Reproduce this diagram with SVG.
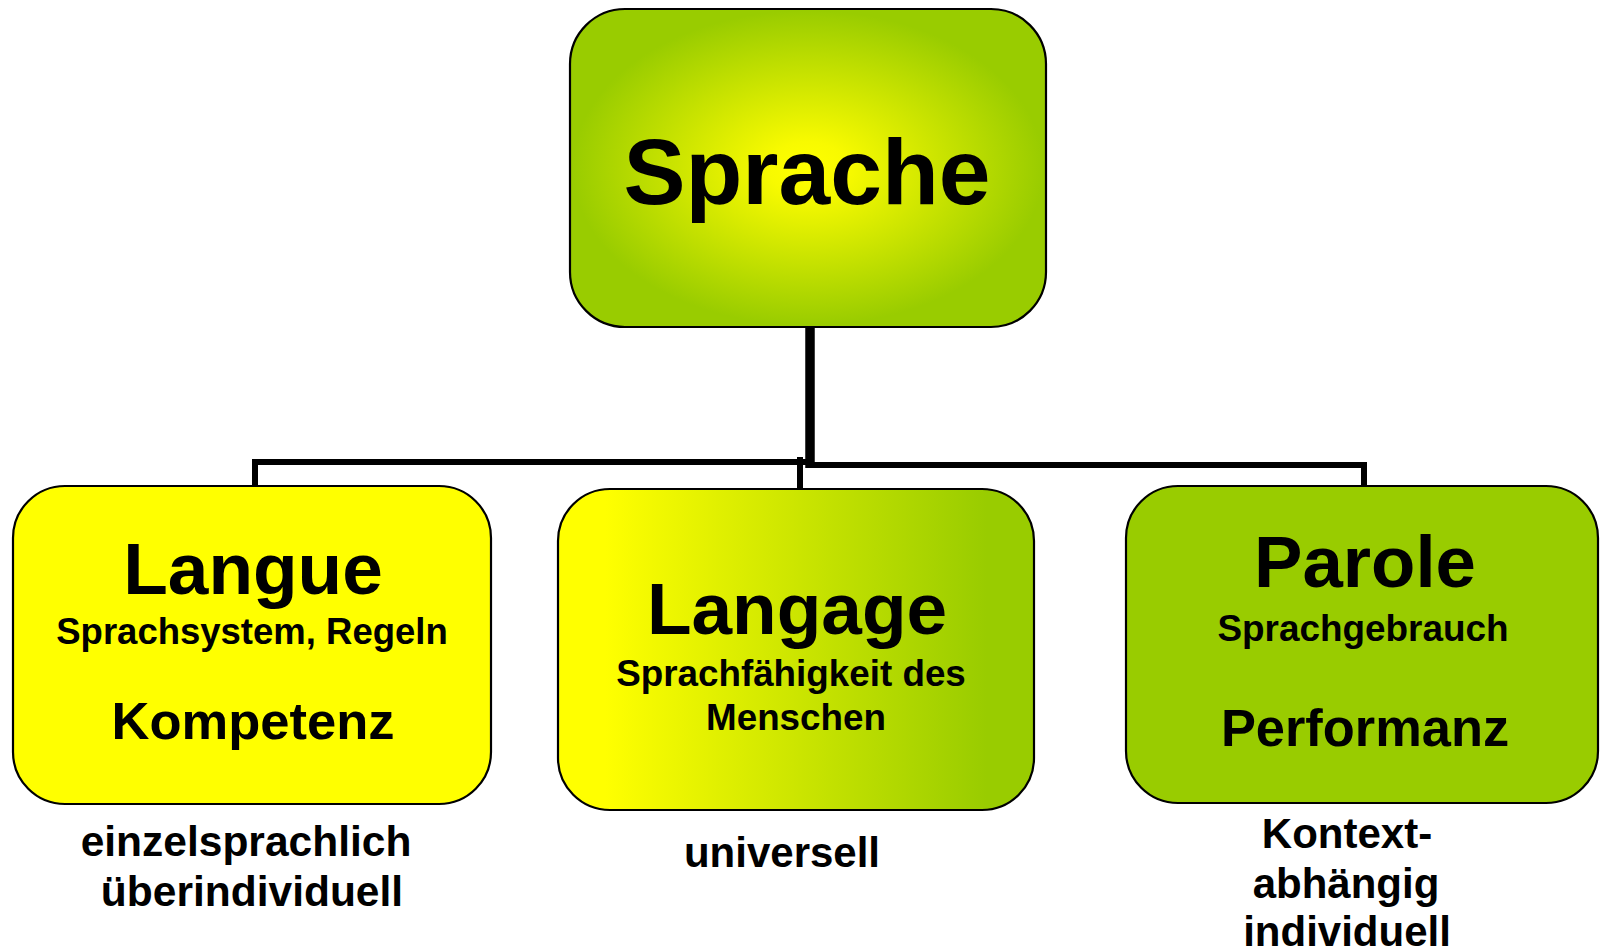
<svg xmlns="http://www.w3.org/2000/svg" width="1600" height="951" viewBox="0 0 1600 951">
<defs>
<radialGradient id="gRad" cx="0.5" cy="0.5" r="0.55">
<stop offset="0" stop-color="#ffff00"/>
<stop offset="0.15" stop-color="#f8fa00"/>
<stop offset="0.9" stop-color="#99cc00"/>
</radialGradient>
<linearGradient id="gLin" x1="0" y1="0" x2="1" y2="0">
<stop offset="0.1" stop-color="#ffff00"/>
<stop offset="0.9" stop-color="#99cc00"/>
</linearGradient>
</defs>
<style>
.box{stroke:#000;stroke-width:2.2}
.t{font-family:"Liberation Sans",Arial,sans-serif;font-weight:bold;fill:#000;text-anchor:middle}
.con{fill:none;stroke:#000;stroke-linejoin:miter;stroke-linecap:butt}
</style>
<rect width="1600" height="951" fill="#fff"/>
<g id="connectors">
<path class="con" stroke-width="9.5" d="M810,327 V468"/>
<path class="con" stroke-width="6" d="M255,486 V462 H810"/>
<path class="con" stroke-width="6" d="M806,465 H1364 V486"/>
<path class="con" stroke-width="6" d="M800,457 V489"/>
</g>
<g id="sprache">
<rect class="box" x="570" y="9" width="476" height="318" rx="55" fill="url(#gRad)"/>
<text class="t" x="807" y="204" font-size="93">Sprache</text>
</g>
<g id="langue">
<rect class="box" x="13" y="486" width="478" height="318" rx="52" fill="#ffff00"/>
<text class="t" x="253" y="594" font-size="73">Langue</text>
<text class="t" x="252" y="644" font-size="36.5">Sprachsystem, Regeln</text>
<text class="t" x="253" y="739" font-size="52.5">Kompetenz</text>
</g>
<g id="langage">
<rect class="box" x="558" y="489" width="476" height="321" rx="52" fill="url(#gLin)"/>
<text class="t" x="797" y="634" font-size="73">Langage</text>
<text class="t" x="791" y="686" font-size="36.8">Sprachfähigkeit des</text>
<text class="t" x="796" y="730" font-size="36.8">Menschen</text>
</g>
<g id="parole">
<rect class="box" x="1126" y="486" width="472" height="317" rx="52" fill="#99cc00"/>
<text class="t" x="1365" y="587" font-size="72.6">Parole</text>
<text class="t" x="1363" y="641" font-size="36.9">Sprachgebrauch</text>
<text class="t" x="1365" y="746" font-size="52.4">Performanz</text>
</g>
<g id="labels">
<text class="t" x="246" y="856" font-size="42.5">einzelsprachlich</text>
<text class="t" x="252" y="906" font-size="42.5">überindividuell</text>
<text class="t" x="782" y="867" font-size="42">universell</text>
<text class="t" x="1347" y="848" font-size="42">Kontext-</text>
<text class="t" x="1346" y="898" font-size="42">abhängig</text>
<text class="t" x="1347" y="946" font-size="42">individuell</text>
</g>
</svg>
